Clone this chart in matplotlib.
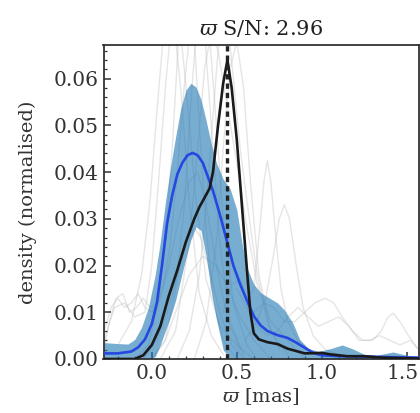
import matplotlib
matplotlib.use("Agg")
import matplotlib.pyplot as plt
import matplotlib.transforms as mtransforms
from matplotlib.ticker import MultipleLocator, AutoMinorLocator

plt.rcParams["font.family"] = ["DejaVu Serif"]
plt.rcParams["mathtext.fontset"] = "dejavuserif"

# Parallax S/N and the reference parallax value
snr = 2.96
plx_ref = 0.44

# Individual KDEs of the sample (light grey)
grey_x = [
    [-0.10, -0.02, 0.04, 0.08, 0.12, 0.16, 0.20, 0.24, 0.28, 0.32, 0.36, 0.42, 0.50],
    [0.00, 0.08, 0.14, 0.19, 0.23, 0.27, 0.30, 0.33, 0.37, 0.42, 0.48, 0.56, 0.62],
    [-0.28, -0.22, -0.16, -0.10, -0.04, 0.00, 0.04, 0.08, 0.11, 0.14, 0.17, 0.21, 0.26,
     0.32, 0.40, 0.50, 0.60],
    [0.05, 0.14, 0.22, 0.27, 0.31, 0.35, 0.39, 0.44, 0.50, 0.56, 0.62, 0.70, 0.80, 0.90],
    [-0.05, 0.03, 0.10, 0.16, 0.21, 0.25, 0.29, 0.34, 0.40, 0.47, 0.55],
    [0.00, 0.08, 0.15, 0.22, 0.30, 0.38, 0.45, 0.52, 0.60, 0.70],
    [-0.28, -0.24, -0.20, -0.16, -0.12, -0.08, -0.04, 0.00, 0.05, 0.10, 0.16, 0.22, 0.27,
     0.32, 0.38, 0.45, 0.52],
    [0.42, 0.47, 0.52, 0.56, 0.60, 0.63, 0.66, 0.68, 0.70, 0.73, 0.76, 0.80, 0.86, 0.93, 1.00],
    [0.55, 0.62, 0.67, 0.71, 0.75, 0.78, 0.81, 0.85, 0.89, 0.95, 1.02, 1.10],
    [0.60, 0.66, 0.72, 0.78, 0.84, 0.90, 0.96, 1.02, 1.07, 1.12, 1.18, 1.24, 1.30, 1.35,
     1.39, 1.42, 1.46, 1.51, 1.57],
    [0.50, 0.56, 0.62, 0.68, 0.74, 0.80, 0.86, 0.92, 0.98, 1.04, 1.10, 1.16, 1.22, 1.28,
     1.34, 1.40, 1.46, 1.52, 1.57],
    [-0.28, -0.25, -0.21, -0.17, -0.13, -0.09, -0.05, -0.01, 0.03, 0.07, 0.11, 0.15, 0.19,
     0.23, 0.27, 0.31, 0.35, 0.40, 0.46, 0.54],
    [-0.20, -0.12, -0.06, -0.01, 0.03, 0.07, 0.10, 0.13, 0.17, 0.22, 0.28, 0.35, 0.42],
    [0.15, 0.22, 0.28, 0.32, 0.36, 0.39, 0.42, 0.45, 0.48, 0.52, 0.57, 0.62, 0.68, 0.75],
    [0.25, 0.32, 0.38, 0.42, 0.46, 0.50, 0.54, 0.58, 0.63, 0.70, 0.80],
]
grey_y = [
    [0.000, 0.003, 0.012, 0.025, 0.045, 0.070, 0.085, 0.075, 0.050, 0.028, 0.013, 0.004, 0.000],
    [0.000, 0.004, 0.015, 0.032, 0.055, 0.074, 0.080, 0.074, 0.055, 0.030, 0.012, 0.003, 0.000],
    [0.004, 0.011, 0.012, 0.009, 0.010, 0.020, 0.038, 0.058, 0.070, 0.075, 0.070, 0.055, 0.034,
     0.017, 0.007, 0.003, 0.000],
    [0.000, 0.006, 0.025, 0.045, 0.062, 0.070, 0.066, 0.055, 0.042, 0.028, 0.016, 0.008, 0.004, 0.000],
    [0.000, 0.004, 0.011, 0.019, 0.026, 0.028, 0.026, 0.019, 0.010, 0.003, 0.000],
    [0.000, 0.004, 0.011, 0.018, 0.022, 0.020, 0.015, 0.009, 0.004, 0.000],
    [0.006, 0.011, 0.013, 0.011, 0.012, 0.014, 0.011, 0.010, 0.013, 0.020, 0.030, 0.038, 0.040,
     0.033, 0.020, 0.008, 0.002],
    [0.010, 0.016, 0.017, 0.013, 0.015, 0.026, 0.038, 0.0425, 0.038, 0.026, 0.015, 0.008, 0.004,
     0.002, 0.001],
    [0.004, 0.008, 0.013, 0.021, 0.030, 0.033, 0.030, 0.020, 0.011, 0.005, 0.002, 0.001],
    [0.010, 0.012, 0.011, 0.008, 0.008, 0.010, 0.012, 0.013, 0.012, 0.009, 0.006, 0.004, 0.004,
     0.006, 0.009, 0.0098, 0.008, 0.005, 0.002],
    [0.015, 0.011, 0.007, 0.005, 0.006, 0.009, 0.011, 0.009, 0.007, 0.008, 0.009, 0.007, 0.004,
     0.004, 0.005, 0.004, 0.003, 0.004, 0.002],
    [0.002, 0.008, 0.013, 0.014, 0.010, 0.011, 0.013, 0.011, 0.012, 0.016, 0.025, 0.040, 0.058,
     0.072, 0.078, 0.070, 0.050, 0.025, 0.008, 0.001],
    [0.003, 0.008, 0.018, 0.034, 0.053, 0.070, 0.076, 0.072, 0.058, 0.034, 0.014, 0.005, 0.001],
    [0.000, 0.006, 0.018, 0.033, 0.052, 0.066, 0.074, 0.071, 0.060, 0.045, 0.031, 0.018, 0.008, 0.002],
    [0.000, 0.008, 0.025, 0.045, 0.062, 0.068, 0.058, 0.038, 0.018, 0.006, 0.001],
]

# Percentile band of the sample KDEs
band_x = [-0.28, -0.20, -0.14, -0.10, -0.06, -0.02, 0.02, 0.05, 0.08, 0.11,
          0.14, 0.17, 0.20, 0.23, 0.26, 0.29, 0.32, 0.35, 0.38, 0.42,
          0.46, 0.50, 0.53, 0.56, 0.60, 0.64, 0.68, 0.74, 0.78, 0.83,
          0.87, 0.92, 0.98, 1.05, 1.12, 1.18, 1.25, 1.32, 1.42, 1.50, 1.57]
band_hi = [0.0035, 0.0033, 0.0032, 0.0042, 0.0068, 0.011, 0.018, 0.025, 0.0335, 0.041,
           0.0475, 0.0535, 0.0575, 0.059, 0.0582, 0.0555, 0.051, 0.046, 0.042, 0.0385,
           0.0365, 0.032, 0.025, 0.0195, 0.016, 0.0142, 0.0133, 0.012, 0.0105, 0.0077,
           0.0042, 0.0022, 0.0016, 0.0022, 0.003, 0.0022, 0.001, 0.0008, 0.0015, 0.0008, 0.0005]
band_lo = [0, 0, 0, 0, 0, 0, 0.0005, 0.003, 0.006, 0.009,
           0.0125, 0.017, 0.0215, 0.0255, 0.0283, 0.0275, 0.022, 0.0145, 0.0085, 0.002,
           0, 0, 0, 0, 0, 0, 0, 0, 0, 0,
           0, 0, 0, 0, 0, 0, 0, 0, 0, 0, 0]

# Median KDE of the sample
med_x = [-0.28, -0.20, -0.12, -0.08, -0.04, 0.00, 0.03, 0.06, 0.09, 0.12,
         0.15, 0.18, 0.21, 0.24, 0.27, 0.30, 0.33, 0.36, 0.40, 0.44,
         0.48, 0.52, 0.56, 0.60, 0.64, 0.68, 0.74, 0.80, 0.85, 0.90,
         0.95, 1.00, 1.10, 1.25, 1.40, 1.57]
med_y = [0.0012, 0.0012, 0.0016, 0.0025, 0.0042, 0.0075, 0.012, 0.020, 0.029, 0.035,
         0.0395, 0.042, 0.0436, 0.0441, 0.0436, 0.042, 0.039, 0.036, 0.031, 0.0255,
         0.020, 0.016, 0.0125, 0.0092, 0.0072, 0.0060, 0.0051, 0.0045, 0.0035, 0.0024,
         0.0013, 0.0008, 0.0006, 0.0005, 0.0004, 0.0003]

# KDE of the target
obj_x = [-0.28, -0.10, -0.05, 0.00, 0.05, 0.10, 0.15, 0.20, 0.25, 0.28,
         0.31, 0.34, 0.36, 0.39, 0.42, 0.445, 0.47, 0.50, 0.53, 0.56,
         0.58, 0.60, 0.63, 0.68, 0.74, 0.80, 0.90, 1.00, 1.05, 1.15,
         1.25, 1.35, 1.45, 1.57]
obj_y = [0.0, 0.0, 0.0008, 0.003, 0.007, 0.0135, 0.019, 0.025, 0.030, 0.0325,
         0.0345, 0.0365, 0.040, 0.050, 0.059, 0.064, 0.058, 0.047, 0.033, 0.019,
         0.010, 0.0055, 0.0042, 0.0036, 0.0032, 0.0022, 0.0012, 0.0013, 0.0010, 0.0006,
         0.0006, 0.0003, 0.0002, 0.0001]

fig = plt.figure(figsize=(4.2, 4.13), dpi=100)
ax = fig.add_axes([103.5 / 420, 1 - 359 / 413, 315.5 / 420, 314 / 413])

for gx, gy in zip(grey_x, grey_y):
    ax.plot(gx, gy, color="0.74", lw=1.0, alpha=0.38, zorder=1)

ax.fill_between(band_x, band_lo, band_hi, color="#1f77b4", alpha=0.6, lw=0, zorder=2)
ax.plot(med_x, med_y, color="#2448e0", lw=1.9, zorder=3)
ax.plot(obj_x, obj_y, color="#1a1a1a", lw=1.9, zorder=4)
ax.axvline(plx_ref, color="#222222", ls=(0, (1.6, 1.2)), lw=2.4, zorder=5)

ax.set_xlim(-0.284, 1.572)
ax.set_ylim(0, 0.0672)
ax.xaxis.set_major_locator(MultipleLocator(0.5))
ax.xaxis.set_minor_locator(AutoMinorLocator(5))
ax.yaxis.set_major_locator(MultipleLocator(0.01))
ax.yaxis.set_minor_locator(AutoMinorLocator(5))
ax.tick_params(which="both", direction="in", top=False, right=False,
               color="#333333", labelsize=14.5, labelcolor="#333333")
ax.tick_params(which="major", length=5, width=1.1)
ax.tick_params(which="minor", length=2.5, width=0.9)
for s in ax.spines.values():
    s.set_color("#333333")
    s.set_linewidth(1.3)

# keep the last x tick label inside the figure edge
fig.canvas.draw()
last = [t for t in ax.get_xticklabels() if t.get_text() and t.get_position()[0] > 1.4]
for t in last:
    t.set_transform(t.get_transform() + mtransforms.ScaledTranslation(-4 / 100, 0, fig.dpi_scale_trans))

ax.set_title(r"$\varpi$ S/N: " + f"{snr:.2f}", fontsize=15, color="#222222", pad=7)
ax.set_xlabel(r"$\varpi$ [mas]", fontsize=14, color="#333333", labelpad=2)
fig.text(28 / 420, 1 - 202 / 413, "density (normalised)", rotation=90,
         ha="center", va="center", fontsize=14, color="#333333")

fig.savefig("out.png", dpi=100)
